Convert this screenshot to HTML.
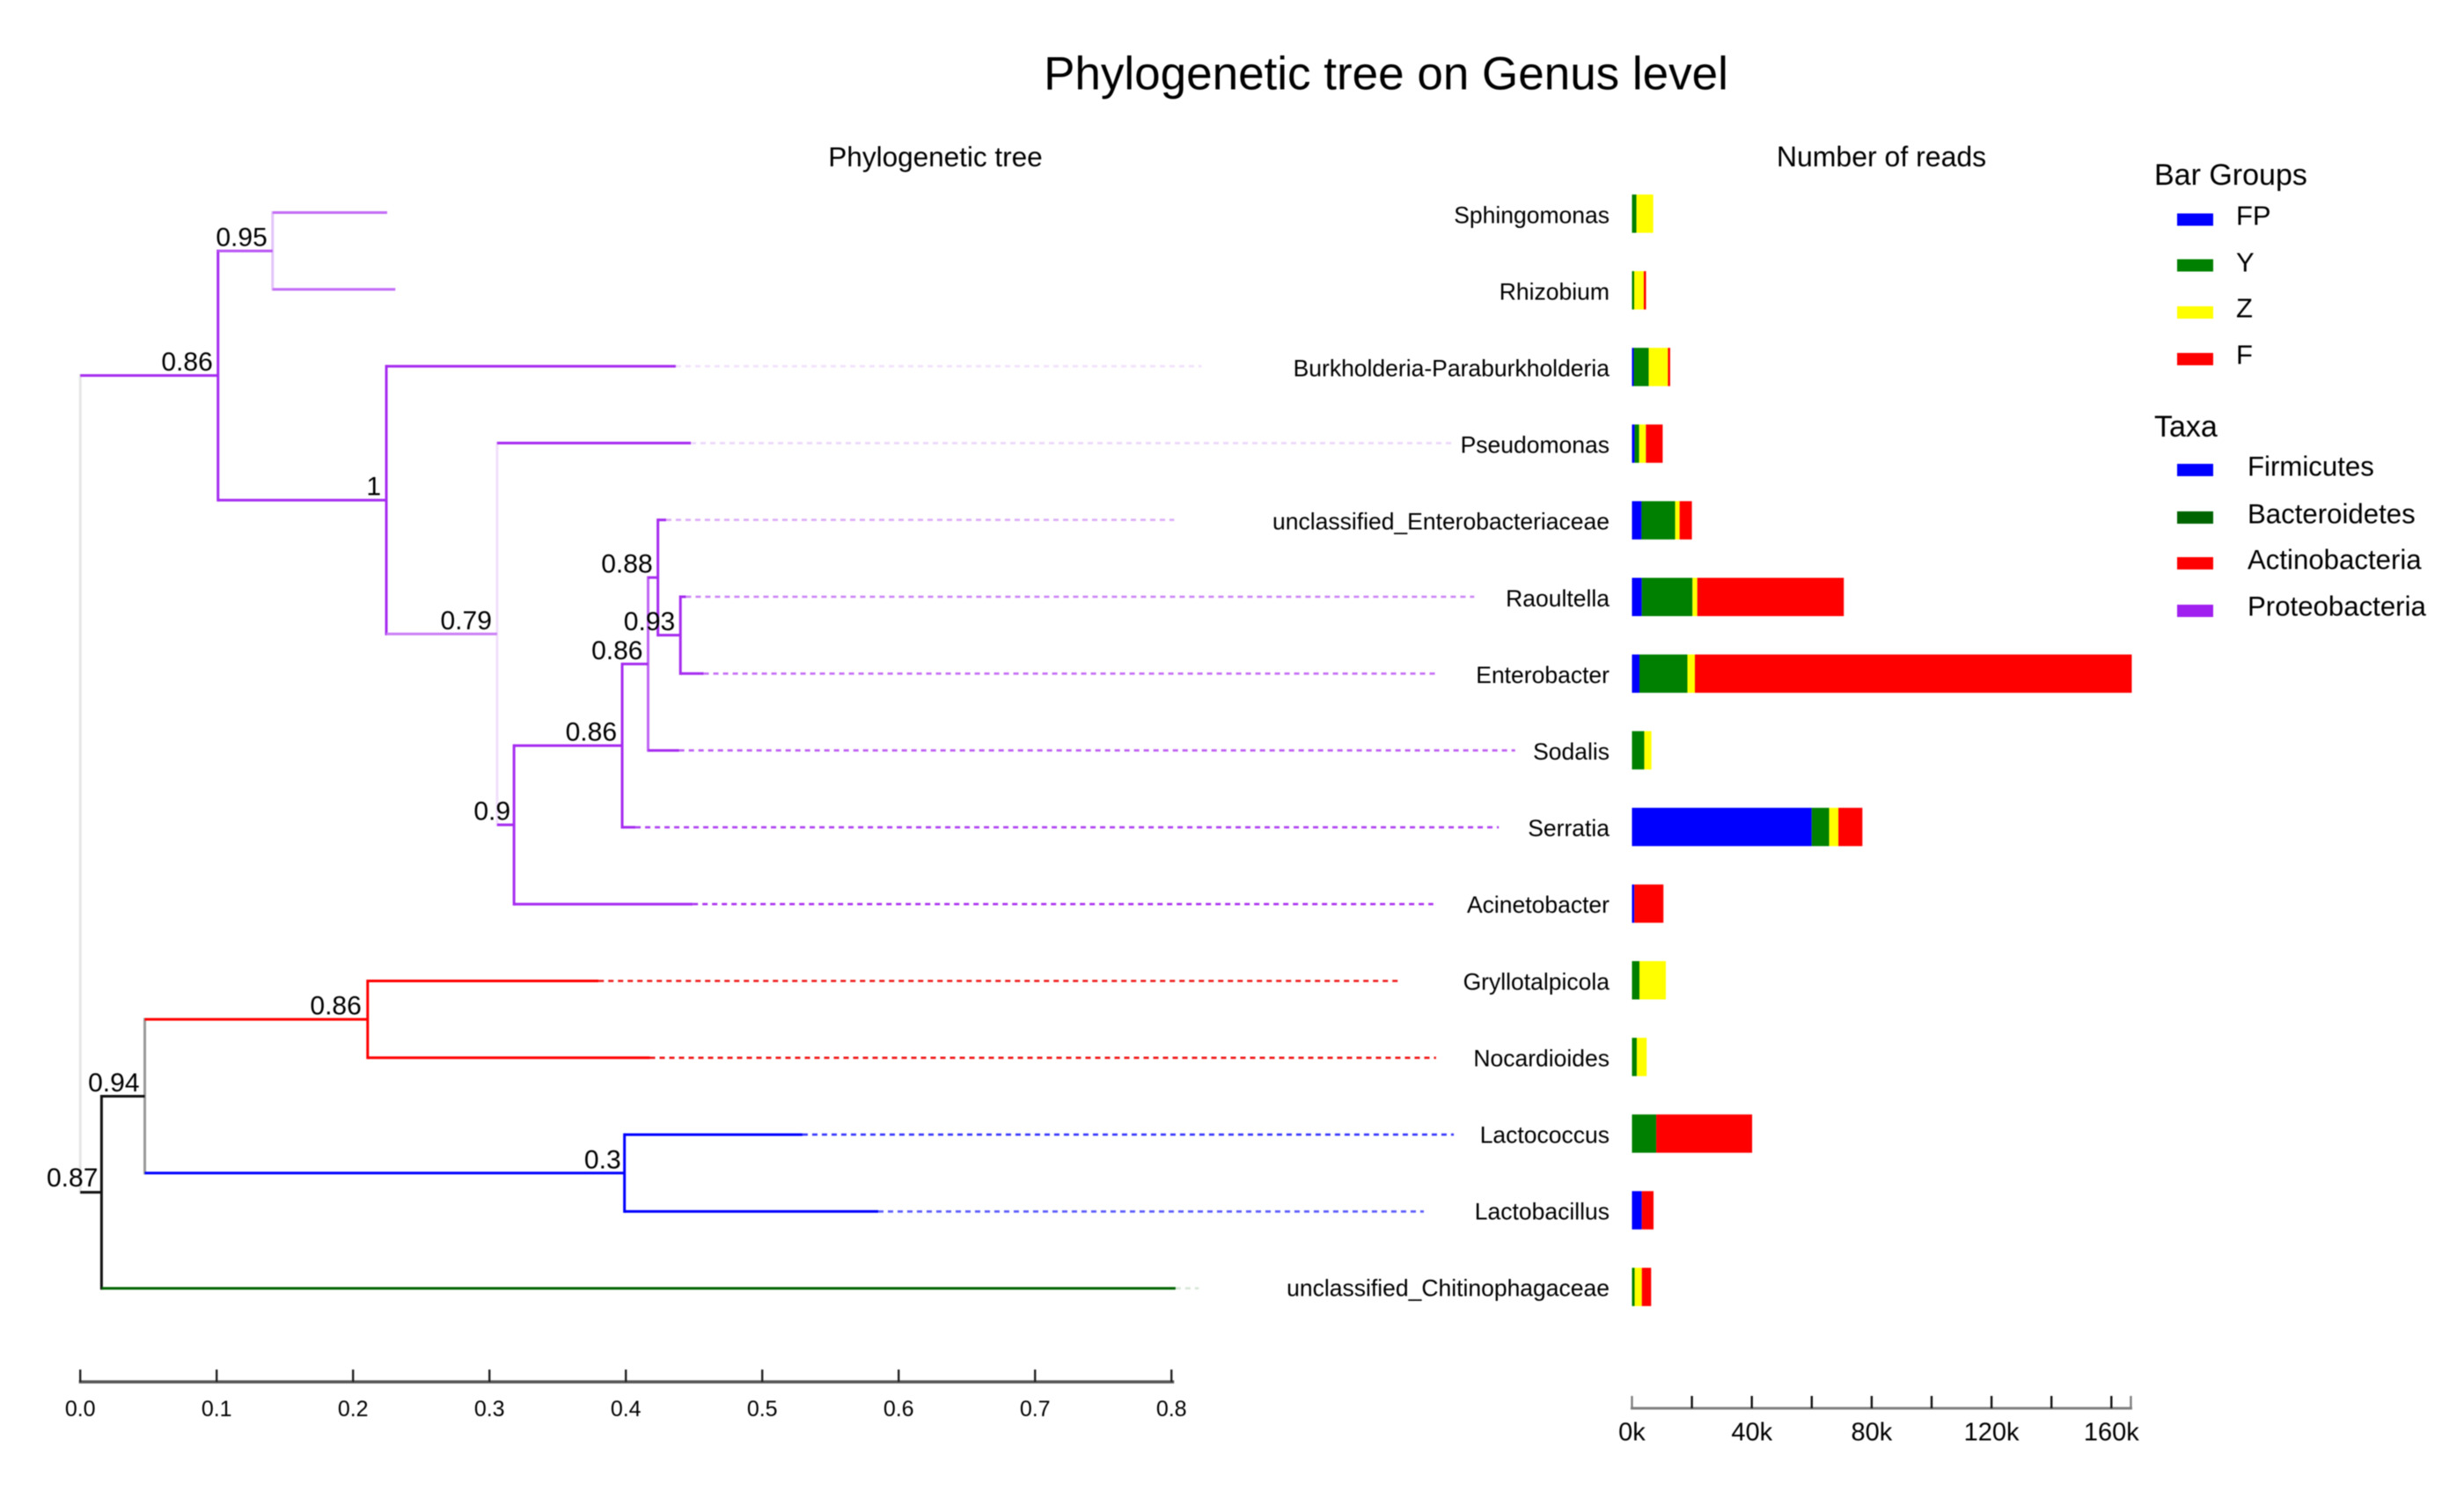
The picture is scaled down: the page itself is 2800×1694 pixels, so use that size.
<!DOCTYPE html>
<html>
<head>
<meta charset="utf-8">
<title>Phylogenetic tree on Genus level</title>
<style>
html,body{margin:0;padding:0;background:#fff;}
svg{display:block;filter:blur(0.6px);}
text{font-family:"Liberation Sans",sans-serif;fill:#000;}
</style>
</head>
<body>
<svg id="chart" xmlns="http://www.w3.org/2000/svg" width="2800" height="1694" viewBox="0 0 2800 1694">
  <rect x="0" y="0" width="2800" height="1694" fill="#fff"/>
  <text x="1575" y="84" font-size="53" text-anchor="middle" dominant-baseline="central">Phylogenetic tree on Genus level</text>
  <text x="1063" y="178" font-size="31.5" text-anchor="middle" dominant-baseline="central">Phylogenetic tree</text>
  <text x="2138" y="178" font-size="32" text-anchor="middle" dominant-baseline="central">Number of reads</text>

  <g id="tree"></g>
  <g id="treeAxis"></g>
  <g id="labels"></g>
  <g id="bars"></g>
  <g id="barAxis"></g>

  <g>
    <text x="2448" y="199" font-size="34" dominant-baseline="central">Bar Groups</text>
    <g>
      <rect x="2474" y="242.5" width="41" height="14" fill="#0000ff"/>
      <text x="2541" y="245" font-size="31" dominant-baseline="central">FP</text>
    </g>
    <g>
      <rect x="2474" y="294.5" width="41" height="14" fill="#008000"/>
      <text x="2541" y="298" font-size="31" dominant-baseline="central">Y</text>
    </g>
    <g>
      <rect x="2474" y="348" width="41" height="14" fill="#ffff00"/>
      <text x="2541" y="350" font-size="31" dominant-baseline="central">Z</text>
    </g>
    <g>
      <rect x="2474" y="401" width="41" height="14" fill="#ff0000"/>
      <text x="2541" y="403" font-size="31" dominant-baseline="central">F</text>
    </g>
  </g>
  <g>
    <text x="2448" y="485" font-size="34" dominant-baseline="central">Taxa</text>
    <g>
      <rect x="2474" y="527" width="41" height="14" fill="#0000ff"/>
      <text x="2554" y="530" font-size="31.2" dominant-baseline="central">Firmicutes</text>
    </g>
    <g>
      <rect x="2474" y="581" width="41" height="14" fill="#006400"/>
      <text x="2554" y="584" font-size="31.2" dominant-baseline="central">Bacteroidetes</text>
    </g>
    <g>
      <rect x="2474" y="633" width="41" height="14" fill="#ff0000"/>
      <text x="2554" y="636" font-size="31.2" dominant-baseline="central">Actinobacteria</text>
    </g>
    <g>
      <rect x="2474" y="687" width="41" height="14" fill="#a020f0"/>
      <text x="2554" y="689" font-size="31.2" dominant-baseline="central">Proteobacteria</text>
    </g>
  </g>
</svg>
<script>
// ---- Data: taxa (categories, top to bottom) ----
const taxa = ["Sphingomonas","Rhizobium","Burkholderia-Paraburkholderia","Pseudomonas","unclassified_Enterobacteriaceae","Raoultella","Enterobacter","Sodalis","Serratia","Acinetobacter","Gryllotalpicola","Nocardioides","Lactococcus","Lactobacillus","unclassified_Chitinophagaceae"];

// ---- Data: reads per bar group ----
const readsFP = [0,0,600,900,3200,3300,2500,0,60000,800,0,0,0,3300,0];
const readsY  = [1500,750,5000,1500,11200,16900,16000,4100,5800,0,2500,1600,8100,0,900];
const readsZ  = [5600,3200,6400,2250,1500,1600,2500,2400,3100,0,8800,3300,0,0,2400];
const readsF  = [0,750,750,5600,4100,48900,145800,0,8000,9700,0,0,32000,3900,3100];
const barGroups = ["FP","Y","Z","F"];

// ---- Data: tree (leaf distances, dotted guide ends, internal nodes) ----
const leafDistance = [0.225,0.231,0.4366,0.4476,0.4295,0.444,0.457,0.439,0.407,0.449,0.380,0.4176,0.5295,0.585,0.803];
const guideEnd     = [0.225,0.231,0.822,1.007,0.802,1.022,0.994,1.052,1.040,0.992,0.968,0.994,1.007,0.985,0.82];
const internalIds      = ["root","proteo","sphingoRhizo","burkGroup","pseudoGroup","acinetoGroup","serratiaGroup","sodalisGroup","enteroGroup","raoulGroup","lowerOuter","lowerInner","actino","firmi"];
const internalParent   = [null,"root","proteo","proteo","burkGroup","pseudoGroup","acinetoGroup","serratiaGroup","sodalisGroup","enteroGroup","root","lowerOuter","lowerInner","lowerInner"];
const internalDistance = [0,0.101,0.141,0.2244,0.3056,0.318,0.3973,0.4163,0.4235,0.44,0.0156,0.0473,0.2107,0.399];
const internalSupport  = ["", "0.86","0.95","1","0.79","0.9","0.86","0.86","0.88","0.93","0.87","0.94","0.86","0.3"];
const leafParent = ["sphingoRhizo","sphingoRhizo","burkGroup","pseudoGroup","enteroGroup","raoulGroup","raoulGroup","sodalisGroup","serratiaGroup","acinetoGroup","actino","actino","firmi","firmi","lowerOuter"];

// ---- Data: axis ticks ----
const treeTicks = [0,0.1,0.2,0.3,0.4,0.5,0.6,0.7,0.8];
const treeTickLabels = ["0.0","0.1","0.2","0.3","0.4","0.5","0.6","0.7","0.8"];
const readTicks = [0,20000,40000,60000,80000,100000,120000,140000,160000];
const readTickLabels = ["0k","","40k","","80k","","120k","","160k"];
const readAxisMax = 166500;

// ---- Scales ----
const NS = "http://www.w3.org/2000/svg";
function treeX(v){ return 91.2 + 1550 * v; }
function treeRowY(i){ return 241.5 + 87.3 * i; }
function readX(v){ return 1854.5 + 0.003405 * v; }
function barRowY(i){ return 221 + 87.1 * i; }
const BAR_H = 43.5;

// ---- Styles (separate from data) ----
const groupColor = {FP:"#0000ff",Y:"#008000",Z:"#ffff00",F:"#ff0000"};
const leafStroke  = ["#c36cf5","#c36cf5","#a62cf0","#a62cf0","#a62cf0","#a62cf0","#a62cf0","#a62cf0","#a62cf0","#a62cf0","#ff0000","#ff0000","#0000ff","#0000ff","#006400"];
const guideStroke = ["#fff","#fff","#f1e2fc","#ecd6fb","#dcaef8","#cb84f6","#c670f5","#be5ef3","#b044f1","#ac36f0","#f01818","#f01818","#3a3aff","#5a5aff","#d8e6d8"];
const hStroke = {proteo:"#a62cf0",sphingoRhizo:"#b955f3",burkGroup:"#a62cf0",pseudoGroup:"#cb80f6",acinetoGroup:"#a62cf0",serratiaGroup:"#a62cf0",sodalisGroup:"#a62cf0",enteroGroup:"#a62cf0",raoulGroup:"#a62cf0",lowerOuter:"#111",lowerInner:"#111",actino:"#ff0000",firmi:"#0000ff"};
const vStroke = {root:"#e6e6e6",proteo:"#a62cf0",sphingoRhizo:"#e4c4fa",burkGroup:"#a62cf0",pseudoGroup:"#f2e0fc",acinetoGroup:"#a62cf0",serratiaGroup:"#a62cf0",sodalisGroup:"#c066f4",enteroGroup:"#a62cf0",raoulGroup:"#a62cf0",lowerOuter:"#111",lowerInner:"#999",actino:"#ff0000",firmi:"#0000ff"};
const supportLabelOffset = {proteo:[-6,-15],sphingoRhizo:[-6,-15],burkGroup:[-6,-15],pseudoGroup:[-6,-15],acinetoGroup:[-4,-15],serratiaGroup:[-6,-15],sodalisGroup:[-6,-15],enteroGroup:[-6,-15],raoulGroup:[-6,-15],lowerOuter:[-4,-16],lowerInner:[-6,-15],actino:[-7,-15],firmi:[-4,-15]};

// ---- Tree layout ----
const treeGroup = document.getElementById("tree");
const nodeY = {};
function childrenYs(id){
  const ys = [];
  internalIds.forEach(function(c,k){ if(internalParent[k]===id) ys.push(computeY(c)); });
  leafParent.forEach(function(p,i){ if(p===id) ys.push(treeRowY(i)); });
  return ys;
}
function computeY(id){
  if(nodeY[id]!==undefined) return nodeY[id];
  const ys = childrenYs(id);
  nodeY[id] = (Math.min.apply(null,ys)+Math.max.apply(null,ys))/2;
  return nodeY[id];
}
function distanceOf(id){ return internalDistance[internalIds.indexOf(id)]; }
function seg(x1,y1,x2,y2,color,dash,w){
  const l = document.createElementNS(NS,"line");
  l.setAttribute("x1",x1); l.setAttribute("y1",y1);
  l.setAttribute("x2",x2); l.setAttribute("y2",y2);
  l.setAttribute("stroke",color);
  l.setAttribute("stroke-width",w||3);
  if(dash) l.setAttribute("stroke-dasharray",dash);
  return l;
}
function label(txt,x,y,size,anchor){
  const t = document.createElementNS(NS,"text");
  t.setAttribute("x",x); t.setAttribute("y",y);
  t.setAttribute("font-size",size);
  t.setAttribute("text-anchor",anchor);
  t.setAttribute("dominant-baseline","central");
  t.textContent = txt;
  return t;
}

internalIds.forEach(function(id,k){
  const ys = childrenYs(id);
  const v = seg(treeX(internalDistance[k]),Math.min.apply(null,ys)-1.5,treeX(internalDistance[k]),Math.max.apply(null,ys)+1.5,vStroke[id]);
  
  
  treeGroup.appendChild(v);
});
internalIds.forEach(function(id,k){
  const parent = internalParent[k];
  if(!parent) return;
  const y = computeY(id);
  const h = seg(treeX(distanceOf(parent)),y,treeX(internalDistance[k]),y,hStroke[id]);
  
  
  treeGroup.appendChild(h);
});
taxa.forEach(function(name,i){
  const y = treeRowY(i);
  const px = treeX(distanceOf(leafParent[i]));
  const g = seg(treeX(leafDistance[i]),y,treeX(guideEnd[i]),y,guideStroke[i],"6 5",2.6);
  
  
  treeGroup.appendChild(g);
  const b = seg(px,y,treeX(leafDistance[i]),y,leafStroke[i]);
  
  
  treeGroup.appendChild(b);
});
internalIds.forEach(function(id,k){
  if(!internalSupport[k]) return;
  const off = supportLabelOffset[id];
  const t = label(internalSupport[k],treeX(internalDistance[k])+off[0],computeY(id)+off[1],30,"end");
  
  
  treeGroup.appendChild(t);
});

// ---- Tree axis ----
const treeAxis = document.getElementById("treeAxis");
const treeAxisLine = seg(treeX(treeTicks[0])-1.5,1570,treeX(treeTicks[treeTicks.length-1])+3,1570,"#555",null,3.5);


treeAxis.appendChild(treeAxisLine);
treeTicks.forEach(function(v,i){
  const tk = seg(treeX(v),1556,treeX(v),1570,"#222",null,2.4);
  
  
  treeAxis.appendChild(tk);
  const t = label(treeTickLabels[i],treeX(v),1601,25,"middle");
  
  
  treeAxis.appendChild(t);
});

// ---- Taxon labels and stacked bars ----
const labelGroup = document.getElementById("labels");
const barGroup = document.getElementById("bars");
const seriesByGroup = {FP:readsFP,Y:readsY,Z:readsZ,F:readsF};
taxa.forEach(function(name,i){
  const t = label(name,1829,barRowY(i)+BAR_H/2+1.5,26.5,"end");
  
  
  labelGroup.appendChild(t);
  let cum = 0;
  barGroups.forEach(function(g){
    const val = seriesByGroup[g][i];
    if(val<=0) return;
    const r = document.createElementNS(NS,"rect");
    r.setAttribute("x",readX(cum));
    r.setAttribute("y",barRowY(i));
    r.setAttribute("width",readX(cum+val)-readX(cum));
    r.setAttribute("height",BAR_H);
    r.setAttribute("fill",groupColor[g]);
    
    
    barGroup.appendChild(r);
    cum += val;
  });
});

// ---- Reads axis ----
const barAxis = document.getElementById("barAxis");
const readAxisLine = seg(readX(0)-1.5,1600,readX(readAxisMax)+1.5,1600,"#808080",null,3);


barAxis.appendChild(readAxisLine);
const readAxisEnd = seg(readX(readAxisMax),1586,readX(readAxisMax),1600,"#808080",null,2.4);


barAxis.appendChild(readAxisEnd);
readTicks.forEach(function(v,i){
  const tk = seg(readX(v),1586,readX(v),1600,v===0?"#808080":"#111",null,2.4);
  
  
  barAxis.appendChild(tk);
  if(readTickLabels[i]){
    const t = label(readTickLabels[i],readX(v),1627.5,29,"middle");
    
    
    barAxis.appendChild(t);
  }
});
</script>
</body>
</html>
